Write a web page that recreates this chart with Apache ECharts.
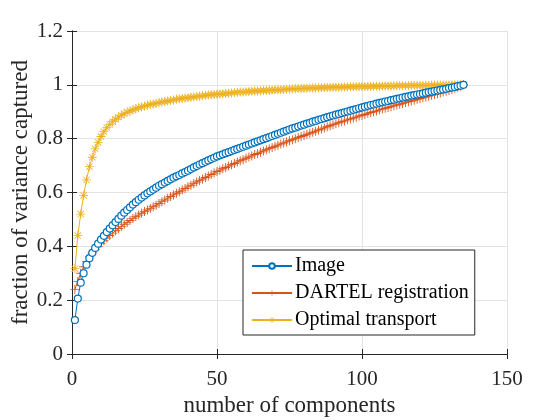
<!DOCTYPE html>
<html><head><meta charset="utf-8">
<script src="https://cdn.jsdelivr.net/npm/echarts@6/dist/echarts.min.js"></script>
<style>html,body{margin:0;padding:0;background:#fff}#c{width:560px;height:420px}</style>
</head><body><div id="c"></div>
<script>
const xTicks = [0, 50, 100, 150];
const yTicks = [0, 0.2, 0.4, 0.6, 0.8, 1, 1.2];
const seriesNames = ['Image', 'DARTEL registration', 'Optimal transport'];
const imageVals = [
0.126,0.206,0.265,0.300,0.332,0.356,0.376,0.394,0.410,0.425,
0.439,0.453,0.466,0.478,0.490,0.502,0.514,0.525,0.535,0.545,
0.555,0.564,0.573,0.581,0.589,0.597,0.604,0.611,0.618,0.625,
0.631,0.637,0.643,0.649,0.655,0.660,0.665,0.671,0.676,0.681,
0.687,0.693,0.698,0.704,0.709,0.714,0.719,0.724,0.729,0.734,
0.738,0.742,0.746,0.750,0.754,0.758,0.762,0.766,0.770,0.774,
0.778,0.782,0.786,0.790,0.794,0.798,0.802,0.806,0.810,0.814,
0.818,0.822,0.826,0.830,0.834,0.838,0.841,0.845,0.849,0.852,
0.856,0.859,0.863,0.866,0.870,0.873,0.876,0.880,0.883,0.886,
0.889,0.892,0.895,0.898,0.901,0.904,0.907,0.910,0.913,0.916,
0.919,0.922,0.925,0.927,0.930,0.933,0.935,0.938,0.940,0.943,
0.945,0.948,0.950,0.953,0.955,0.957,0.960,0.962,0.964,0.966,
0.968,0.971,0.973,0.975,0.977,0.979,0.981,0.983,0.985,0.988,
0.990,0.992,0.995,0.997,1.000];
const dartelVals = [
0.240,0.270,0.300,0.324,0.344,0.361,0.376,0.389,0.400,0.411,
0.421,0.431,0.440,0.449,0.458,0.466,0.474,0.482,0.489,0.496,
0.503,0.510,0.516,0.523,0.529,0.535,0.541,0.547,0.553,0.559,
0.566,0.572,0.579,0.585,0.591,0.597,0.603,0.609,0.615,0.621,
0.627,0.633,0.639,0.645,0.650,0.656,0.661,0.667,0.672,0.678,
0.683,0.688,0.693,0.698,0.703,0.708,0.713,0.718,0.722,0.727,
0.732,0.736,0.741,0.745,0.750,0.754,0.759,0.763,0.767,0.772,
0.776,0.780,0.784,0.788,0.792,0.796,0.800,0.804,0.808,0.812,
0.816,0.820,0.824,0.828,0.832,0.836,0.840,0.844,0.848,0.852,
0.855,0.859,0.863,0.866,0.870,0.873,0.877,0.880,0.884,0.887,
0.890,0.894,0.897,0.900,0.903,0.907,0.910,0.913,0.916,0.919,
0.922,0.925,0.928,0.931,0.934,0.937,0.940,0.943,0.946,0.949,
0.952,0.955,0.958,0.961,0.964,0.967,0.970,0.973,0.976,0.979,
0.983,0.987,0.991,0.995,1.000];
const otVals = [
0.317,0.440,0.520,0.589,0.647,0.696,0.731,0.762,0.786,0.808,
0.826,0.841,0.853,0.863,0.872,0.880,0.887,0.893,0.898,0.903,
0.907,0.911,0.915,0.918,0.921,0.924,0.927,0.929,0.931,0.934,
0.936,0.938,0.940,0.942,0.944,0.946,0.948,0.949,0.951,0.952,
0.954,0.955,0.957,0.958,0.959,0.961,0.962,0.963,0.964,0.965,
0.966,0.967,0.968,0.969,0.970,0.971,0.972,0.973,0.973,0.974,
0.975,0.976,0.977,0.977,0.978,0.979,0.979,0.980,0.981,0.981,
0.982,0.982,0.983,0.984,0.984,0.985,0.985,0.986,0.986,0.987,
0.987,0.988,0.988,0.988,0.989,0.989,0.990,0.990,0.990,0.991,
0.991,0.991,0.992,0.992,0.992,0.993,0.993,0.993,0.994,0.994,
0.994,0.994,0.995,0.995,0.995,0.995,0.996,0.996,0.996,0.996,
0.996,0.997,0.997,0.997,0.997,0.997,0.998,0.998,0.998,0.998,
0.998,0.998,0.998,0.999,0.999,0.999,0.999,0.999,0.999,0.999,
1.000,1.000,1.000,1.000,1.000];

const toPairs = arr => arr.map((v, i) => [i + 1, v]);
const FONT = 'Liberation Serif';
const AX = '#262626';
const plusPath = 'path://M-0.1,-1 L0.1,-1 L0.1,1 L-0.1,1 Z M-1,-0.1 L1,-0.1 L1,0.1 L-1,0.1 Z';
const starPath = 'path://M-0.09,-1 L0.09,-1 L0.09,1 L-0.09,1 Z M-1,-0.09 L1,-0.09 L1,0.09 L-1,0.09 Z M-0.77,-0.64 L-0.64,-0.77 L0.77,0.64 L0.64,0.77 Z M0.64,-0.77 L0.77,-0.64 L-0.64,0.77 L-0.77,0.64 Z';

const chart = echarts.init(document.getElementById('c'), null, {renderer: 'canvas'});
const xBase = {type: 'value', min: 0, max: 150, interval: 50, axisLine: {show: true, lineStyle: {color: AX, width: 1}},
  axisTick: {show: true, inside: true, length: 5, lineStyle: {color: AX}}};
const yBase = {type: 'value', min: 0, max: 1.2, interval: 0.2, axisLine: {show: true, lineStyle: {color: AX, width: 1}},
  axisTick: {show: true, inside: true, length: 5, lineStyle: {color: AX}}};
chart.setOption({
  animation: false,
  backgroundColor: '#fff',
  textStyle: {fontFamily: FONT},
  grid: {left: 72, right: 53, top: 31, bottom: 66, containLabel: false, outerBoundsMode: 'none'},
  xAxis: [
    Object.assign({}, xBase, {position: 'bottom', name: 'number of components', nameLocation: 'middle', nameGap: 40,
      nameMoveOverlap: false,
      nameTextStyle: {fontFamily: FONT, fontSize: 23, color: AX},
      axisLabel: {fontFamily: FONT, fontSize: 21, color: AX, margin: 15},
      splitLine: {show: true, lineStyle: {color: '#e3e3e3', width: 1}}}),
    Object.assign({}, xBase, {position: 'top', axisLabel: {show: false}, splitLine: {show: false}})
  ],
  yAxis: [
    Object.assign({}, yBase, {position: 'left', name: 'fraction of variance captured', nameLocation: 'middle', nameGap: 40,
      nameMoveOverlap: false,
      nameTextStyle: {fontFamily: FONT, fontSize: 23, color: AX},
      axisLabel: {fontFamily: FONT, fontSize: 21, color: AX, margin: 9, formatter: v => String(Math.round(v * 10) / 10)},
      splitLine: {show: true, lineStyle: {color: '#e3e3e3', width: 1}}}),
    Object.assign({}, yBase, {position: 'right', axisLabel: {show: false}, splitLine: {show: false}})
  ],
  legend: {
    orient: 'vertical', left: 243, top: 250, data: seriesNames,
    backgroundColor: '#fff', borderColor: AX, borderWidth: 1, borderRadius: 0,
    padding: [6, 6, 5, 8], itemGap: 7, itemWidth: 40, itemHeight: 7,
    textStyle: {fontFamily: FONT, fontSize: 20, color: '#000', lineHeight: 20, padding: [0, 0, 0, -2]}
  },
  series: [
    {name: seriesNames[0], type: 'line', data: toPairs(imageVals), symbol: 'circle', symbolSize: 7,
      lineStyle: {color: '#0072BD', width: 1}, itemStyle: {color: '#fff', borderColor: '#0072BD', borderWidth: 1.2}, z: 3},
    {name: seriesNames[1], type: 'line', data: toPairs(dartelVals), symbol: plusPath, symbolSize: 9,
      lineStyle: {color: '#D95319', width: 1}, itemStyle: {color: '#D95319'}, z: 2},
    {name: seriesNames[2], type: 'line', data: toPairs(otVals), symbol: starPath, symbolSize: 9,
      lineStyle: {color: '#EDB120', width: 1}, itemStyle: {color: '#EDB120'}, z: 1}
  ]
});
</script></body></html>
